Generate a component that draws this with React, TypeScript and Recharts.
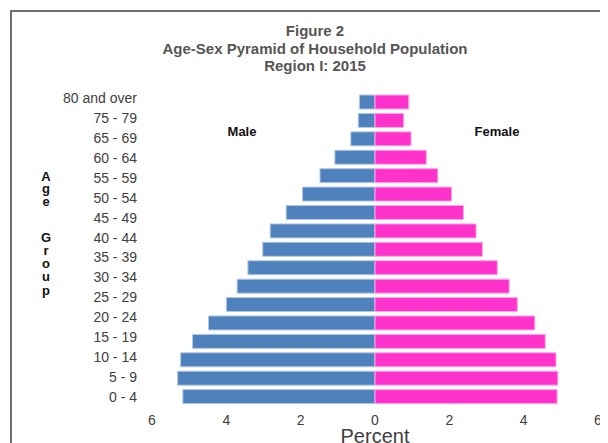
import { BarChart, Bar, XAxis, YAxis, Label } from 'recharts';

// age groups, top to bottom as the bars are drawn
const ageGroups = [
  '80 and over', '75 - 79', '70 - 74', '65 - 69', '60 - 64', '55 - 59',
  '50 - 54', '45 - 49', '40 - 44', '35 - 39', '30 - 34', '25 - 29',
  '20 - 24', '15 - 19', '10 - 14', '5 - 9', '0 - 4',
];

// the source only prints 16 labels, spread evenly down the axis
const tickLabels = [
  '80 and over', '75 - 79', '65 - 69', '60 - 64', '55 - 59', '50 - 54',
  '45 - 49', '40 - 44', '35 - 39', '30 - 34', '25 - 29', '20 - 24',
  '15 - 19', '10 - 14', '5 - 9', '0 - 4',
];

const malePct = [0.42, 0.45, 0.65, 1.08, 1.48, 1.95, 2.39, 2.82, 3.02, 3.42, 3.71, 4.0, 4.48, 4.91, 5.23, 5.31, 5.17];
const femalePct = [0.91, 0.77, 0.97, 1.38, 1.69, 2.06, 2.38, 2.72, 2.89, 3.29, 3.61, 3.83, 4.3, 4.58, 4.87, 4.92, 4.9];

const percentTicks = [-6, -4, -2, 0, 2, 4, 6];
const titleLines = ['Figure 2', 'Age-Sex Pyramid of Household Population', 'Region I: 2015'];

const FONT = '"Liberation Sans", Arial, sans-serif';

const data = ageGroups.map((age, i) => ({
  age,
  male: -malePct[i],
  female: femalePct[i],
}));

// separate category axis for the printed labels (they don't line up 1:1 with bars)
const labelData = tickLabels.map((label) => ({ label, none: 0 }));

const layer = { position: 'absolute' as const, left: 0, top: 0 };

export default function App() {
  return (
    <div
      style={{
        position: 'relative',
        margin: '-8px 0 0 -8px',
        width: 608,
        height: 443,
        overflow: 'hidden',
        background: '#fff',
        fontFamily: FONT,
      }}
    >
      {/* chart frame, runs off the right and bottom edges */}
      <div
        style={{
          position: 'absolute',
          left: 10,
          top: 10,
          width: 700,
          height: 600,
          border: '2px solid #707070',
        }}
      />
      <div style={layer}>
        <BarChart
          width={608}
          height={443}
          data={labelData}
          layout="vertical"
          margin={{ top: 88, right: 10, bottom: 36, left: 0 }}
        >
          <XAxis type="number" domain={[0, 1]} hide />
          <YAxis
            type="category"
            dataKey="label"
            interval={0}
            axisLine={false}
            tickLine={false}
            tickSize={0}
            tickMargin={15}
            width={152}
            tick={{ fill: '#404040', fontSize: 14, fontFamily: FONT }}
          />
          <Bar dataKey="none" fill="none" isAnimationActive={false} />
        </BarChart>
      </div>
      <div style={layer}>
        <BarChart
          width={608}
          height={443}
          data={data}
          layout="vertical"
          stackOffset="sign"
          barCategoryGap="11%"
          margin={{ top: 93, right: 10, bottom: 0, left: 152 }}
        >
          <XAxis
            type="number"
            domain={[-6, 6]}
            ticks={percentTicks}
            tickFormatter={(v: number) => String(Math.abs(v))}
            axisLine={false}
            tickLine={false}
            tickSize={0}
            tickMargin={9}
            height={37}
            tick={{ fill: '#404040', fontSize: 14, fontFamily: FONT }}
          >
            <Label
              value="Percent"
              position="insideBottom"
              offset={0}
              fill="#404040"
              fontSize={20}
              fontFamily={FONT}
            />
          </XAxis>
          <YAxis type="category" dataKey="age" hide width={0} />
          <Bar
            dataKey="male"
            stackId="pyr"
            fill="#4F81BD"
            stroke="#b3c8e4"
            strokeWidth={1}
            isAnimationActive={false}
          />
          <Bar
            dataKey="female"
            stackId="pyr"
            fill="#FF33CC"
            stroke="#ffa8e8"
            strokeWidth={1}
            isAnimationActive={false}
          />
        </BarChart>
      </div>
      <svg width={608} height={443} style={{ ...layer, pointerEvents: 'none' }}>
        <text x={315} y={36} textAnchor="middle" fontFamily={FONT} fontWeight="bold" fontSize={15} fill="#555">
          {titleLines.map((line, i) => (
            <tspan key={line} x={315} dy={i === 0 ? 0 : 17.5}>
              {line}
            </tspan>
          ))}
        </text>
        <text x={242} y={136} textAnchor="middle" fontFamily={FONT} fontWeight="bold" fontSize={13} fill="#111">
          Male
        </text>
        <text x={497} y={136} textAnchor="middle" fontFamily={FONT} fontWeight="bold" fontSize={13} fill="#111">
          Female
        </text>
        <text x={46} y={181} textAnchor="middle" fontFamily={FONT} fontWeight="bold" fontSize={13} fill="#111">
          {['A', 'g', 'e'].map((ch, i) => (
            <tspan key={i} x={46} dy={i === 0 ? 0 : 12.4}>
              {ch}
            </tspan>
          ))}
        </text>
        <text x={46} y={241.7} textAnchor="middle" fontFamily={FONT} fontWeight="bold" fontSize={13} fill="#111">
          {['G', 'r', 'o', 'u', 'p'].map((ch, i) => (
            <tspan key={i} x={46} dy={i === 0 ? 0 : 13.2}>
              {ch}
            </tspan>
          ))}
        </text>
      </svg>
    </div>
  );
}
